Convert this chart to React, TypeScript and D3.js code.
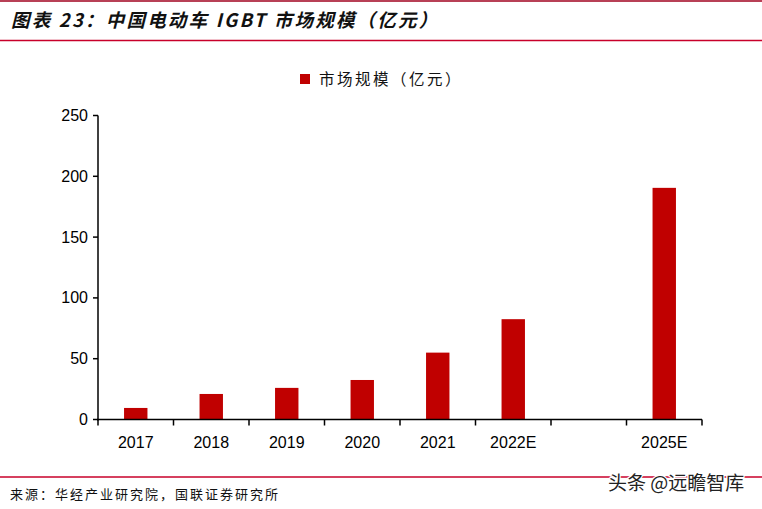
import React from "react";
import * as d3 from "d3";

const categories = ["2017", "2018", "2019", "2020", "2021", "2022E", "", "2025E"];
const values: (number | null)[] = [9.5, 21, 26, 32.5, 55, 82.5, null, 190.5];
const yTicks = [0, 50, 100, 150, 200, 250];
const title = "图表 23：中国电动车 IGBT 市场规模（亿元）";
const legendLabel = "市场规模（亿元）";
const source = "来源：华经产业研究院，国联证券研究所";
const watermark = "头条 @远瞻智库";

const W = 762;
const H = 509;
const RED = "#c00000";
const LINE = "#c8002a";

export default function App() {
  const x = d3.scaleBand<number>().domain(d3.range(categories.length)).range([98, 702]).paddingInner(0.69).paddingOuter(0.345);
  const xb = d3.scaleBand<number>().domain(d3.range(categories.length)).range([98, 702]);
  const y = d3.scaleLinear().domain([0, 250]).range([419.5, 115.5]);
  const cjk = "'Noto Sans CJK SC', 'Noto Sans', sans-serif";
  const num = "'Liberation Sans', Arial, sans-serif";
  return (
    <svg width={W} height={H} style={{ position: "absolute", left: 0, top: 0, background: "#fff" }}>
      <line x1={0} x2={W} y1={1} y2={1} stroke="#a0001e" strokeWidth={1.5} />
      <text x={11} y={27} fontFamily={cjk} fontSize={18.5} fontStyle="italic" fontWeight="bold" fill="#111" letterSpacing={2.2}>{title}</text>
      <line x1={0} x2={W} y1={40.5} y2={40.5} stroke={LINE} strokeWidth={1.5} />

      <rect x={300} y={74} width={10} height={10} fill={RED} />
      <text x={319} y={84.5} fontFamily={cjk} fontSize={15.5} fill="#111" letterSpacing={2.5}>{legendLabel}</text>

      {/* y axis */}
      <line x1={98} x2={98} y1={y(250)} y2={y(0) + 1} stroke="#000" strokeWidth={1.5} />
      {yTicks.map((t) => (
        <g key={t}>
          <line x1={93} x2={98} y1={y(t)} y2={y(t)} stroke="#000" strokeWidth={1.5} />
          <text x={88} y={y(t) + 5.5} textAnchor="end" fontFamily={num} fontSize={16} fill="#000">{t}</text>
        </g>
      ))}

      {values.map((v, i) =>
        v == null ? null : (
          <rect key={i} x={x(i)!} y={y(v)} width={x.bandwidth()} height={y(0) - y(v)} fill={RED} />
        )
      )}

      {/* x axis */}
      <line x1={97} x2={702} y1={y(0)} y2={y(0)} stroke="#000" strokeWidth={1.5} />
      {d3.range(categories.length + 1).map((i) => {
        const px = i < categories.length ? xb(i)! : 702;
        return <line key={i} x1={px} x2={px} y1={y(0)} y2={y(0) + 6} stroke="#000" strokeWidth={1.5} />;
      })}
      {categories.map((c, i) => (
        <text key={i} x={xb(i)! + xb.bandwidth() / 2} y={447.5} textAnchor="middle" fontFamily={num} fontSize={16} fill="#000">{c}</text>
      ))}

      <line x1={0} x2={W} y1={477} y2={477} stroke={LINE} strokeWidth={1.5} />
      <text x={10} y={499} fontFamily={cjk} fontSize={13} fill="#111" letterSpacing={2}>{source}</text>
      <text x={608} y={490} fontFamily={cjk} fontSize={19} fill="#222" stroke="#fff" strokeWidth={2.5} paintOrder="stroke">{watermark}</text>
    </svg>
  );
}
